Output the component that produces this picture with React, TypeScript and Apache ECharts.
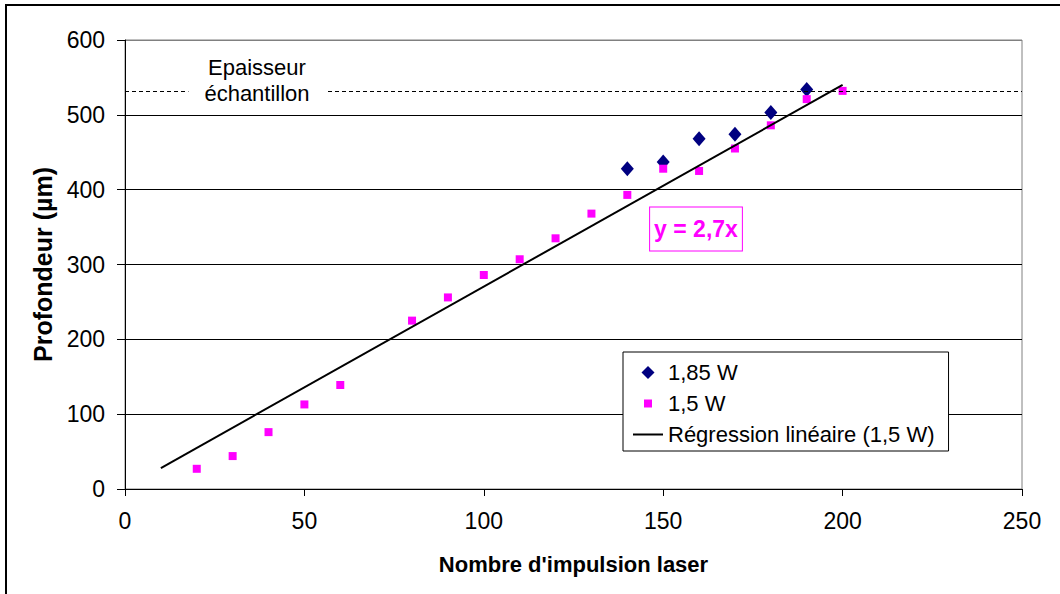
import React, { useEffect, useRef } from 'react';
import * as echarts from 'echarts';

const FONT = '"Liberation Sans", Arial, sans-serif';

// 1,5 W measurements
const pulses15 = [20, 30, 40, 50, 60, 80, 90, 100, 110, 120, 130, 140, 150, 160, 170, 180, 190, 200];
const depth15 = [27, 44, 76, 113, 139, 225, 256, 286, 307, 335, 368, 393, 428, 425, 455, 486, 521, 532];
// 1,85 W measurements
const pulses185 = [140, 150, 160, 170, 180, 190];
const depth185 = [428, 437, 468, 474, 503, 534];
// Linear regression (1,5 W) end points
const regX = [10, 200];
const regY = [28, 540];
// Sample thickness
const thickness = 532;

// legend icons: invisible move-to corners keep the 30x14 icon box, so the marks keep their size
const ICON_DIAMOND = 'path://M0,0M30,14M15,0.5L21.5,7L15,13.5L8.5,7Z';
const ICON_SQUARE = 'path://M0,0M30,14M11,3L19,3L19,11L11,11Z';

export default function App() {
  const ref = useRef<HTMLDivElement>(null);
  useEffect(() => {
    const chart = echarts.init(ref.current!, null, { renderer: 'svg' });
    chart.setOption({
      animation: false,
      backgroundColor: '#fff',
      textStyle: { fontFamily: FONT },
      grid: {
        left: 125, right: 38, top: 40, bottom: 105,
        show: true, borderColor: '#808080', borderWidth: 1, backgroundColor: 'transparent',
      },
      xAxis: {
        type: 'value', min: 0, max: 250, interval: 50,
        axisLine: { show: true, onZero: false, lineStyle: { color: '#000', width: 1 } },
        axisTick: { show: true, length: 7, lineStyle: { color: '#000' } },
        axisLabel: { fontSize: 23, color: '#000', margin: 20, fontFamily: FONT },
        splitLine: { show: false },
        name: "Nombre d'impulsion laser", nameLocation: 'middle', nameGap: 64,
        nameTextStyle: { fontSize: 22, fontWeight: 'bold', color: '#000', fontFamily: FONT },
      },
      yAxis: {
        type: 'value', min: 0, max: 600, interval: 100,
        axisLine: { show: true, lineStyle: { color: '#000', width: 1 } },
        axisTick: { show: true, length: 8, lineStyle: { color: '#000' } },
        axisLabel: { fontSize: 23, color: '#000', margin: 20, fontFamily: FONT },
        splitLine: { show: true, lineStyle: { color: ['#000', '#000', '#000', '#000', '#000', '#000', '#808080'], width: 1 } },
        name: 'Profondeur (µm)', nameLocation: 'middle', nameGap: 66,
        nameTextStyle: { fontSize: 25, fontWeight: 'bold', color: '#000', fontFamily: FONT },
      },
      legend: {
        orient: 'vertical', left: 623, top: 352,
        padding: [5, 14, 1, 9], itemGap: 0, itemWidth: 30, itemHeight: 14,
        backgroundColor: '#fff', borderColor: '#000', borderWidth: 1,
        textStyle: { fontSize: 22, color: '#000', lineHeight: 31, fontFamily: FONT },
        data: [
          { name: '1,85 W', icon: ICON_DIAMOND, itemStyle: { opacity: 1 } },
          { name: '1,5 W', icon: ICON_SQUARE, itemStyle: { opacity: 1 } },
          { name: 'Régression linéaire (1,5 W)', itemStyle: { opacity: 0 } },
        ],
      },
      series: [
        {
          name: '1,85 W', type: 'scatter',
          data: pulses185.map((x, i) => [x, depth185[i]]),
          symbol: 'diamond', symbolSize: [13, 15],
          itemStyle: { color: '#000080', opacity: 1 },
        },
        {
          name: '1,5 W', type: 'scatter',
          data: pulses15.map((x, i) => [x, depth15[i]]),
          symbol: 'rect', symbolSize: 8,
          itemStyle: { color: '#FF00FF', opacity: 1 },
        },
        {
          name: 'Régression linéaire (1,5 W)', type: 'line',
          data: regX.map((x, i) => [x, regY[i]]),
          symbol: 'none', showSymbol: false,
          lineStyle: { color: '#000', width: 2 }, itemStyle: { color: '#000' },
          markLine: {
            silent: true, symbol: 'none', label: { show: false },
            lineStyle: { color: '#000', type: [4, 3], width: 1 },
            data: [{ yAxis: thickness }],
          },
        },
      ],
      graphic: [
        {
          type: 'rect', silent: true, z: 200,
          shape: { x: 6, y: 5, width: 1200, height: 800 },
          style: { fill: 'none', stroke: '#000', lineWidth: 2 },
        },
        {
          type: 'text', x: 257, y: 80, z: 100,
          style: {
            text: 'Epaisseur\néchantillon', font: '22px ' + FONT, fill: '#000',
            align: 'center', verticalAlign: 'middle', textAlign: 'center', textVerticalAlign: 'middle',
            lineHeight: 26, backgroundColor: '#fff', padding: [0, 16],
          },
        },
        {
          type: 'text', x: 696, y: 229, z: 100,
          style: {
            text: 'y = 2,7x', font: 'bold 23px ' + FONT, fill: '#FF00FF',
            align: 'center', verticalAlign: 'middle', textAlign: 'center', textVerticalAlign: 'middle',
            borderColor: '#FF00FF', borderWidth: 1, padding: [11, 4, 9, 4], backgroundColor: '#fff',
          },
        },
      ],
    });
    return () => chart.dispose();
  }, []);
  return (
    <div
      ref={ref}
      style={{ position: 'absolute', left: 0, top: 0, width: 1060, height: 594, background: '#fff' }}
    />
  );
}
